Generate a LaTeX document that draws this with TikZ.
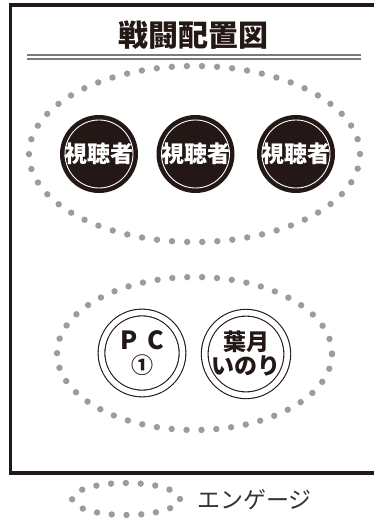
\documentclass[tikz,border=0pt]{standalone}
\usepackage{fontspec}
\usetikzlibrary{shapes.geometric}
\newfontfamily\jpf{Noto Sans CJK JP}
\newfontfamily\jpbf{Noto Sans CJK JP}[FakeBold=2.5]
\definecolor{ink}{HTML}{231815}
\definecolor{dotgray}{HTML}{9C9C9C}
\definecolor{rulegray}{HTML}{7A7A7A}
\definecolor{legendtext}{HTML}{333333}
\tikzset{
  engage/.style={ellipse, draw=dotgray, line width=6.4pt, line cap=round,
    dash pattern=on 0pt off #1, inner sep=0pt},
  viewer/.style={circle, fill=ink, minimum size=78pt, inner sep=0pt, text=white,
    font=\jpf\bfseries\fontsize{23}{23}\selectfont,
    path picture={\draw[white, line width=0.9pt] (path picture bounding box.center) circle (34pt);}},
  player/.style={circle, draw=ink, double=white, double distance=5.6pt, line width=1.1pt,
    minimum size=81pt, inner sep=0pt, text=ink, align=center},
  framebox/.style={draw=ink, line width=3.6pt},
  titletext/.style={text=ink, font=\jpf\bfseries\fontsize{30}{30}\selectfont, inner sep=0pt},
  rulestyle/.style={draw=rulegray, line width=1.1pt},
}
\begin{document}
\begin{tikzpicture}[x=1pt, y=-1pt]
\path[use as bounding box, clip] (0,0) rectangle (374,521);
\fill[white] (0,0) rectangle (374,521);
% frame
\draw[framebox] (10.5,5) rectangle (420,473);
% title
\node[titletext] (title) at (193,35) {戦闘配置図};
\coordinate (r1a) at (27,55); \coordinate (r1b) at (361,55);
\coordinate (r2a) at (27,59); \coordinate (r2b) at (361,59);
\draw[rulestyle] (r1a) -- (r1b);
\draw[rulestyle] (r2a) -- (r2b);
% engagement areas
\node[engage=15.1pt, minimum width=331pt, minimum height=176pt] (eng1) at (194.5,154) {};
\node[engage=14.9pt, minimum width=275pt, minimum height=153pt] (eng2) at (194.5,353.5) {};
% viewers
\node[viewer] (v1) at (99,154) {視聴者};
\node[viewer] (v2) at (195.5,154) {視聴者};
\node[viewer] (v3) at (296,154) {視聴者};
% players
\node[player, font=\jpf\bfseries\fontsize{25}{25}\selectfont] (pc) at (142,353) {P\hspace{0.4em}C\\[-1pt]{\fontsize{22}{22}\selectfont ①}};
\node[player, font=\jpf\bfseries\fontsize{23}{25}\selectfont] (iori) at (246,354) {葉月\\[-1pt]いのり};
% legend
\node[engage=14.8pt, minimum width=108pt, minimum height=32pt] (legend) at (126,499) {};
\node[anchor=west, inner sep=0pt, text=legendtext, font=\jpf\fontsize{23}{23}\selectfont] (legendlabel) at (197,500) {エンゲージ};
\end{tikzpicture}
\end{document}
